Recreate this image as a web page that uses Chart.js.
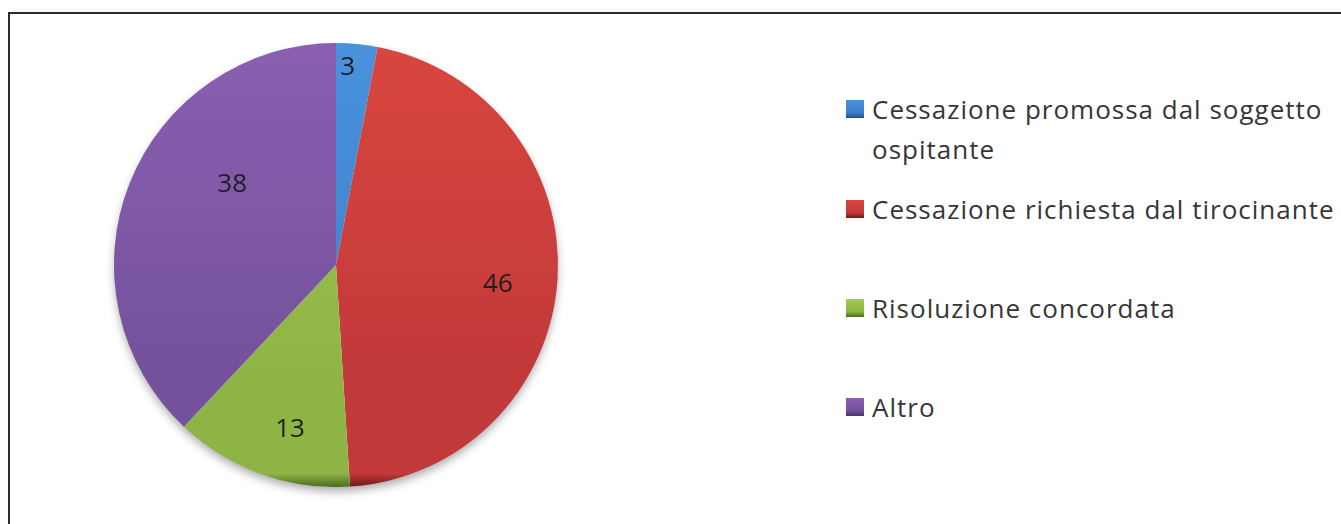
<!DOCTYPE html>
<html lang="it">
<head>
<meta charset="utf-8">
<title>Cause di cessazione dei tirocini</title>
<script src="https://cdn.jsdelivr.net/npm/chart.js@4.4.1/dist/chart.umd.min.js"></script>
<style>
    html, body { margin: 0; padding: 0; background: #fff; }
    body { width: 1341px; height: 524px; position: relative; overflow: hidden; font-family: "Open Sans", Lato, sans-serif; }
    .frame { position: absolute; left: 8px; top: 12px; width: 1400px; height: 600px; border-left: 2px solid #2a2a2a; border-top: 2px solid #2a2a2a; }
    .pie-wrap { position: absolute; left: 94px; top: 23px; width: 484px; height: 484px; }
    .legend { position: absolute; left: 846px; top: 89px; color: #363636; font-size: 26px; letter-spacing: 1px; line-height: 40px; }
    .legend-item { display: flex; align-items: flex-start; }
    .legend-item .box { width: 18px; height: 18px; margin-top: 11px; margin-right: 8px; flex: none; }
</style>
</head>
<body>
<div class="frame"></div>
<div class="pie-wrap"><canvas id="pieChart"></canvas></div>
<div class="legend" id="legend"></div>

<script>
// Data
const categories = [
    'Cessazione promossa dal soggetto ospitante',
    'Cessazione richiesta dal tirocinante',
    'Risoluzione concordata',
    'Altro'
];
const legendLines = [
    ['Cessazione promossa dal soggetto', 'ospitante'],
    ['Cessazione richiesta dal tirocinante'],
    ['Risoluzione concordata'],
    ['Altro']
];
const values = [3, 46, 13, 38];

// Styles (light top -> dark bottom shading per slice)
const lightColors = ['#4a92dc', '#d8463f', '#a2cb52', '#8a5fb2'];
const baseColors  = ['#3b7fc9', '#c2393a', '#8db445', '#74519a'];
const darkColors  = ['#224f85', '#6e1818', '#4c6a1f', '#4a3168'];
const legendGaps  = [0, 20, 59, 59];

function sliceFill(context) {
    const i = context.dataIndex;
    const area = context.chart.chartArea;
    if (!area) return baseColors[i];
    const g = context.chart.ctx.createLinearGradient(0, area.top, 0, area.bottom);
    g.addColorStop(0, lightColors[i]);
    g.addColorStop(0.75, baseColors[i]);
    g.addColorStop(0.97, baseColors[i]);
    g.addColorStop(1, darkColors[i]);
    return g;
}

// soft shadow under the whole pie
const pieShadow = {
    id: 'pieShadow',
    beforeDatasetsDraw(chart) {
        const arc = chart.getDatasetMeta(0).data[0];
        if (!arc) return;
        const { x, y, outerRadius } = arc.getProps(['x', 'y', 'outerRadius'], true);
        const ctx = chart.ctx;
        ctx.save();
        ctx.shadowColor = 'rgba(0,0,0,0.35)';
        ctx.shadowBlur = 10;
        ctx.shadowOffsetY = 5;
        ctx.beginPath();
        ctx.arc(x, y, outerRadius - 1, 0, Math.PI * 2);
        ctx.fillStyle = '#fff';
        ctx.fill();
        ctx.restore();
    }
};

// value labels inside slices
const sliceLabels = {
    id: 'sliceLabels',
    afterDatasetsDraw(chart, args, opts) {
        const ctx = chart.ctx;
        const meta = chart.getDatasetMeta(0);
        ctx.save();
        ctx.font = opts.font;
        ctx.fillStyle = opts.color;
        ctx.textAlign = 'center';
        ctx.textBaseline = 'middle';
        meta.data.forEach((arc, i) => {
            const p = arc.getProps(['x', 'y', 'startAngle', 'endAngle', 'outerRadius'], true);
            const place = opts.placement[i];
            const mid = (p.startAngle + p.endAngle) / 2 + place.shift * Math.PI / 180;
            const r = p.outerRadius * place.r;
            ctx.fillText(String(values[i]), p.x + Math.cos(mid) * r, p.y + Math.sin(mid) * r);
        });
        ctx.restore();
    }
};

new Chart(document.getElementById('pieChart'), {
    type: 'pie',
    data: {
        labels: categories,
        datasets: [{
            data: values,
            backgroundColor: sliceFill,
            borderWidth: 0
        }]
    },
    options: {
        responsive: true,
        maintainAspectRatio: false,
        animation: false,
        layout: { padding: 20 },
        plugins: {
            legend: { display: false },
            tooltip: { enabled: false },
            sliceLabels: {
                font: '26px "Open Sans", Lato, sans-serif',
                color: '#1e1e1e',
                placement: [
                    { r: 0.89, shift: -2 },
                    { r: 0.735, shift: 3.4 },
                    { r: 0.77, shift: -4.2 },
                    { r: 0.59, shift: 16 }
                ]
            }
        }
    },
    plugins: [pieShadow, sliceLabels]
});

// Legend
const legendEl = document.getElementById('legend');
legendEl.innerHTML = legendLines.map((lines, i) => `
    <div class="legend-item" style="margin-top:${legendGaps[i]}px">
        <span class="box" style="background:linear-gradient(${lightColors[i]}, ${baseColors[i]} 70%, ${darkColors[i]})"></span>
        <span>${lines.join('<br>')}</span>
    </div>
`).join('');
</script>
</body>
</html>
